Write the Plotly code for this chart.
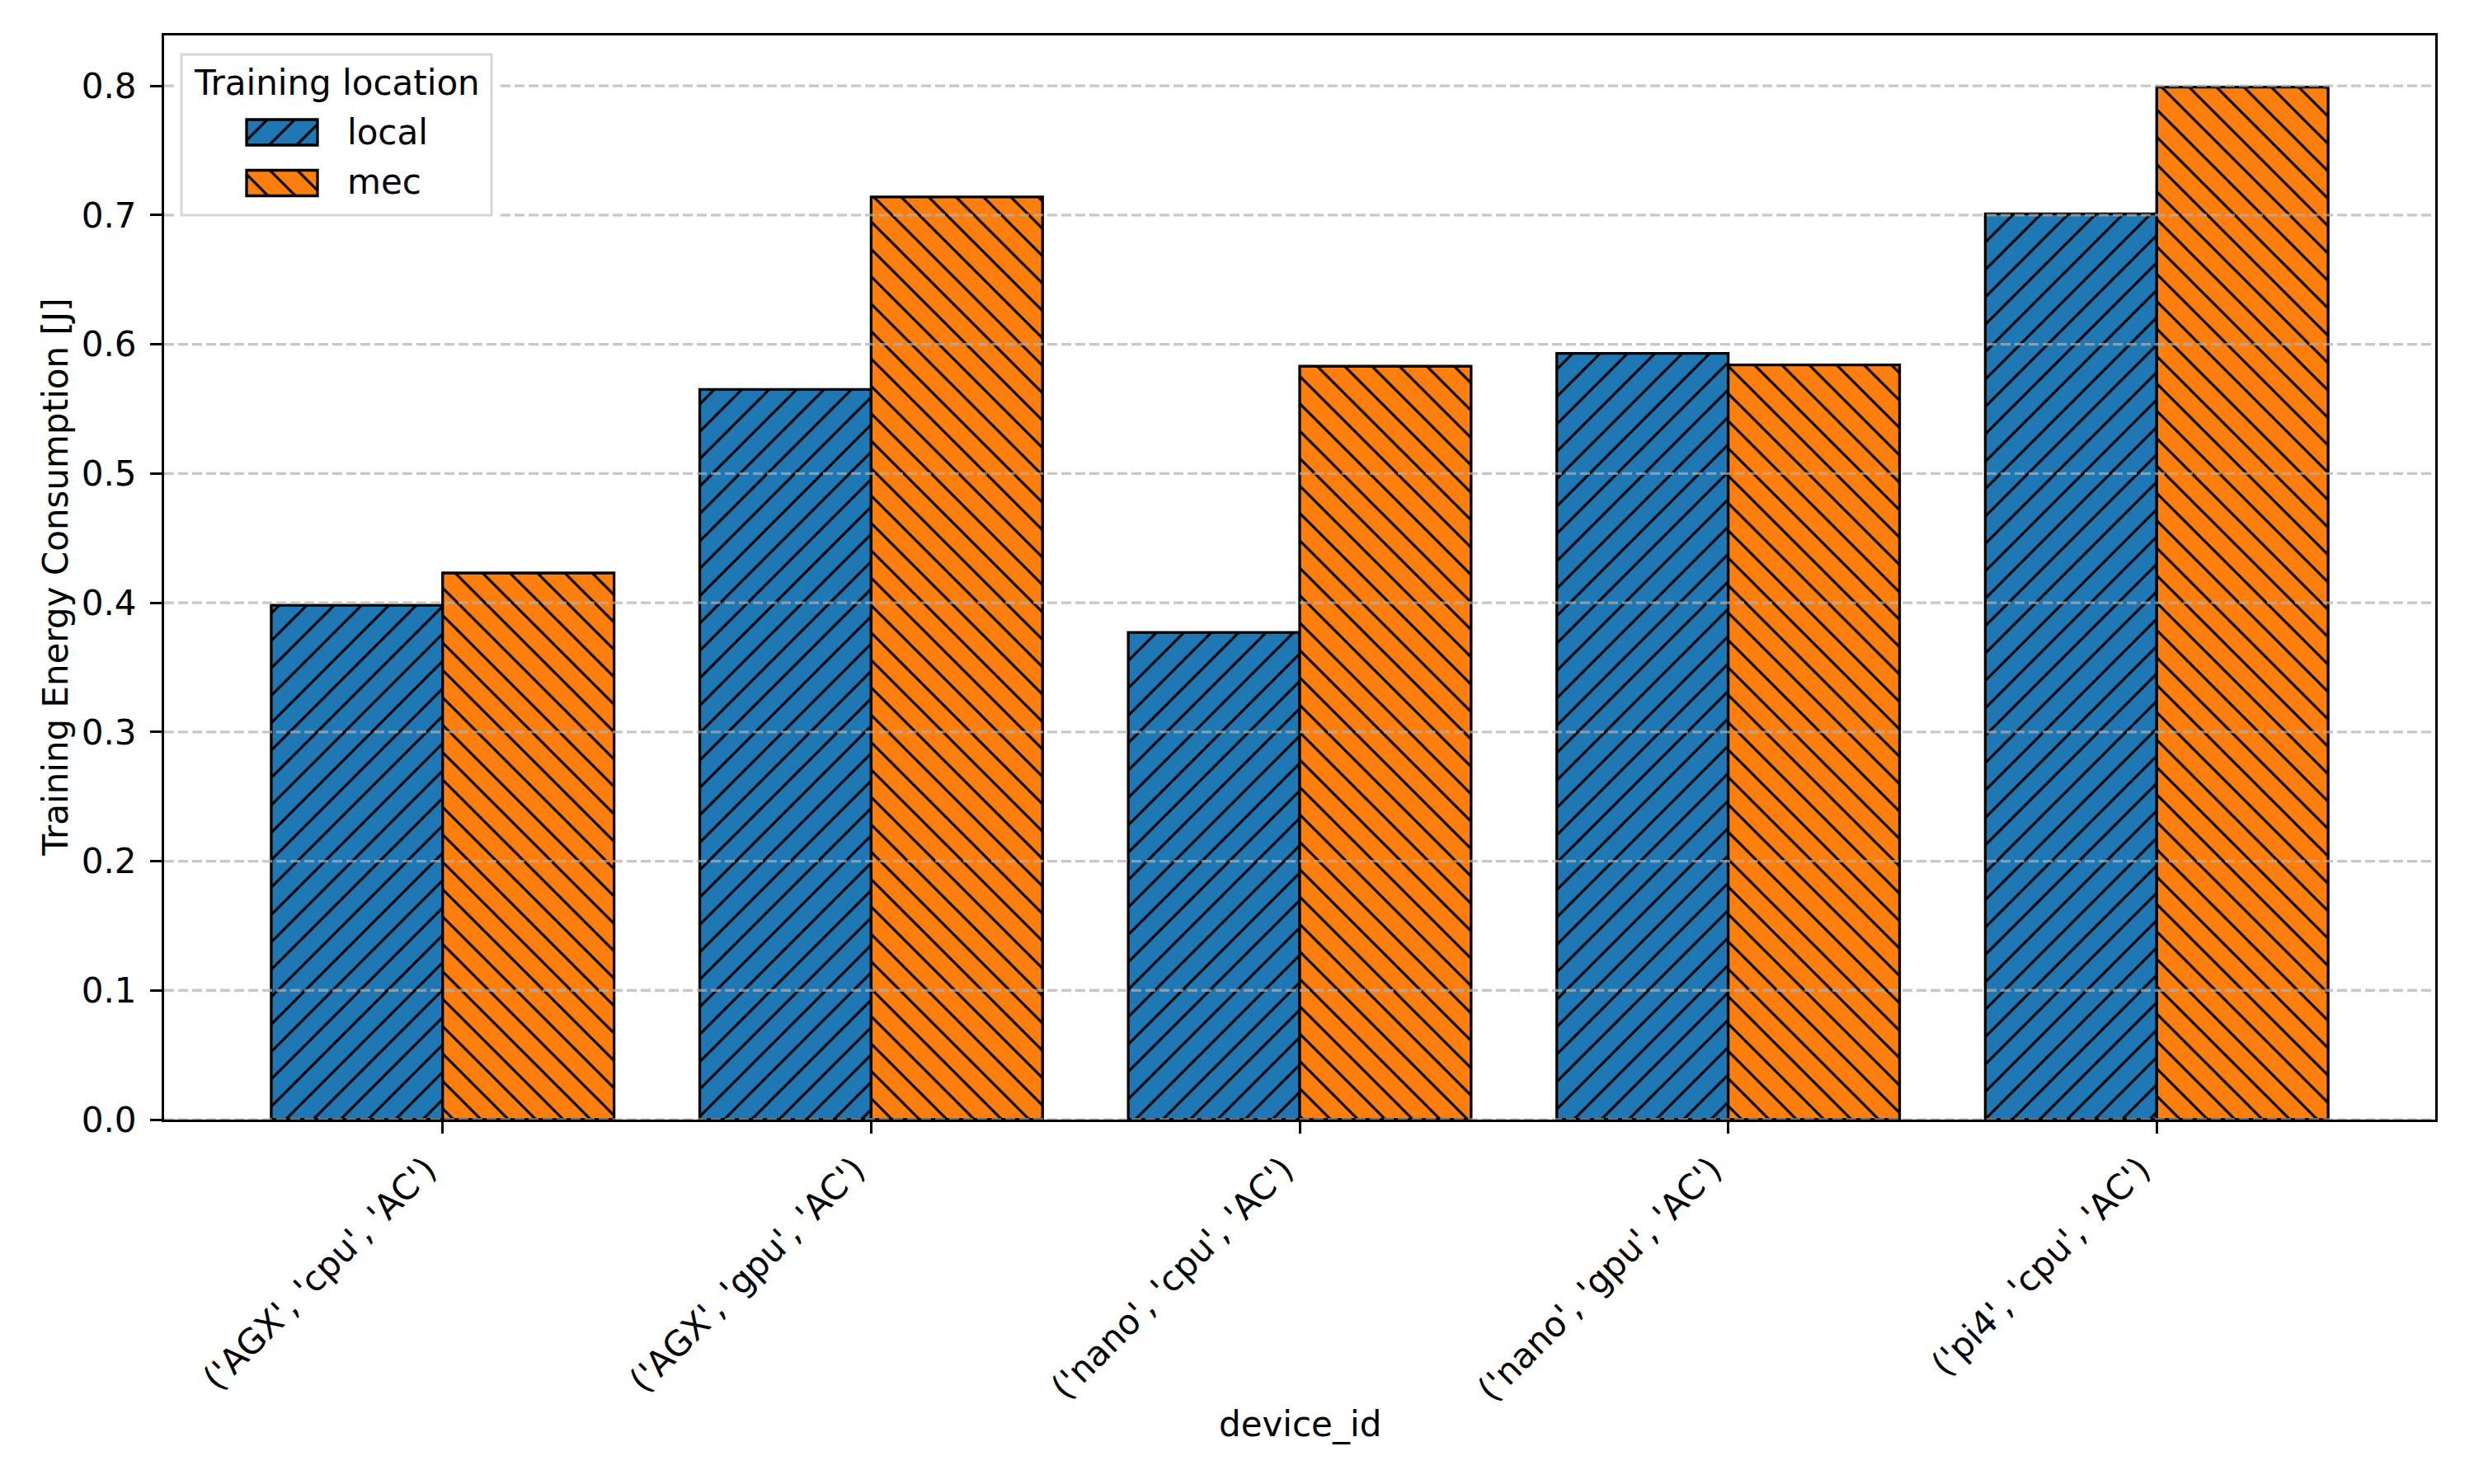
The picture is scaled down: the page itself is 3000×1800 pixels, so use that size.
import plotly.graph_objects as go

# ---------------- data ----------------
categories = ["('AGX', 'cpu', 'AC')", "('AGX', 'gpu', 'AC')", "('nano', 'cpu', 'AC')",
              "('nano', 'gpu', 'AC')", "('pi4', 'cpu', 'AC')"]
local_values = [0.398, 0.565, 0.377, 0.593, 0.701]
mec_values = [0.423, 0.714, 0.583, 0.584, 0.799]
series_names = ["local", "mec"]
legend_title = "Training location"
y_tick_values = [0.0, 0.1, 0.2, 0.3, 0.4, 0.5, 0.6, 0.7, 0.8]
y_tick_labels = ["0.0", "0.1", "0.2", "0.3", "0.4", "0.5", "0.6", "0.7", "0.8"]
x_title = "device_id"
y_title = "Training Energy Consumption [J]"

# ---------------- styling / layout constants ----------------
FIG_W, FIG_H = 3000, 1800
L, R, T, B = 199, 2953, 43, 1358          # plot area in pixels
PW, PH = R - L, B - T
FONT = "DejaVu Sans"
FS = 42
C_LOCAL, C_MEC = "#1f77b4", "#ff7f0e"
EDGE_W = 3.3
PAT_SIZE, PAT_SOLID = 23.5, 0.13


def px_x(x):
    return (x - L) / PW


def px_y(y):
    return (B - y) / PH


def pattern(shape):
    return dict(shape=shape, size=PAT_SIZE, solidity=PAT_SOLID, fgcolor="black",
                fgopacity=1, fillmode="overlay")


fig = go.Figure()

# main bars
fig.add_trace(go.Bar(x=categories, y=local_values, name=series_names[0],
                     marker=dict(color=C_LOCAL, line=dict(color="black", width=EDGE_W),
                                 pattern=pattern("/")),
                     xaxis="x", yaxis="y", showlegend=False))
fig.add_trace(go.Bar(x=categories, y=mec_values, name=series_names[1],
                     marker=dict(color=C_MEC, line=dict(color="black", width=EDGE_W),
                                 pattern=pattern("\\")),
                     xaxis="x", yaxis="y", showlegend=False))

# dashed grid drawn above the bars (overlay x-axis spanning full width)
gx, gy = [], []
for v in y_tick_values:
    gx += [0, 1, None]
    gy += [v, v, None]
fig.add_trace(go.Scatter(x=gx, y=gy, mode="lines", xaxis="x2", yaxis="y",
                         line=dict(color="rgba(176,176,176,0.7)", width=3.3, dash="12px,5px"),
                         hoverinfo="skip", showlegend=False, cliponaxis=False))

# legend box (inset axes x3/y3)
bx0, bx1, by0, by1 = 220, 596, 66, 261
pad = 6
fig.add_trace(go.Bar(x=[0], y=[1], base=[0], width=[1], offset=0,
                     marker=dict(color="rgba(255,255,255,0.8)",
                                 line=dict(color="rgba(204,204,204,0.8)", width=3)),
                     xaxis="x3", yaxis="y3", hoverinfo="skip", showlegend=False))

# legend swatches (inset axes x4/y4)
sx0, sx1 = 299, 385
sw_h = 31
c_local_y, c_mec_y = 160.5, 222
unit = c_mec_y - c_local_y
wfrac = sw_h / unit
fig.add_trace(go.Bar(x=[1], y=[1], base=[0], orientation="h", width=[wfrac], offset=-wfrac / 2,
                     marker=dict(color=C_LOCAL, line=dict(color="black", width=EDGE_W),
                                 pattern=pattern("/")),
                     xaxis="x4", yaxis="y4", hoverinfo="skip", showlegend=False))
fig.add_trace(go.Bar(x=[1], y=[0], base=[0], orientation="h", width=[wfrac], offset=-wfrac / 2,
                     marker=dict(color=C_MEC, line=dict(color="black", width=EDGE_W),
                                 pattern=pattern("\\")),
                     xaxis="x4", yaxis="y4", hoverinfo="skip", showlegend=False))

axis_common = dict(showline=True, linecolor="black", linewidth=3, mirror=True,
                   ticks="outside", ticklen=14, tickwidth=3, tickcolor="black",
                   showgrid=False, zeroline=False, tickfont=dict(family=FONT, size=FS, color="black"))

hidden = dict(visible=False, showgrid=False, zeroline=False, fixedrange=True)

sp = 4
fig.update_layout(
    width=FIG_W, height=FIG_H, autosize=False,
    margin=dict(l=L, r=FIG_W - R, t=T, b=FIG_H - B, pad=0),
    paper_bgcolor="white", plot_bgcolor="white",
    font=dict(family=FONT, size=FS, color="black"),
    barmode="group", bargap=0.2, bargroupgap=0,
    showlegend=False,
    xaxis=dict(type="category", categoryorder="array", categoryarray=categories,
               range=[-0.65, len(categories) - 0.35], tickangle=-45,
               ticklabelshift=-20, ticklabelstandoff=2,
               layer="above traces", **axis_common),
    yaxis=dict(range=[0, 0.839], tickvals=y_tick_values, ticktext=y_tick_labels,
               ticklabelstandoff=8,
               layer="above traces", **axis_common),
    xaxis2=dict(overlaying="x", anchor="y", range=[0, 1], **hidden),
    xaxis3=dict(domain=[px_x(bx0 - pad), px_x(bx1 + pad)], anchor="y3",
                range=[-pad / (bx1 - bx0), 1 + pad / (bx1 - bx0)], **hidden),
    yaxis3=dict(domain=[px_y(by1 + pad), px_y(by0 - pad)], anchor="x3",
                range=[-pad / (by1 - by0), 1 + pad / (by1 - by0)], **hidden),
    xaxis4=dict(domain=[px_x(sx0 - sp), px_x(sx1 + sp)], anchor="y4",
                range=[-sp / (sx1 - sx0), 1 + sp / (sx1 - sx0)], **hidden),
    yaxis4=dict(domain=[px_y(c_mec_y + sw_h / 2 + sp), px_y(c_local_y - sw_h / 2 - sp)], anchor="x4",
                range=[-(sw_h / 2 + sp) / unit, 1 + (sw_h / 2 + sp) / unit], **hidden),
)

ann_font = dict(family=FONT, size=FS, color="black")
fig.add_annotation(text=legend_title, xref="paper", yref="paper",
                   x=px_x((bx0 + bx1) / 2), y=px_y(100), xanchor="center", yanchor="middle",
                   showarrow=False, font=ann_font)
fig.add_annotation(text=series_names[0], xref="paper", yref="paper",
                   x=px_x(419), y=px_y(c_local_y), xanchor="left", yanchor="middle",
                   showarrow=False, font=ann_font)
fig.add_annotation(text=series_names[1], xref="paper", yref="paper",
                   x=px_x(419), y=px_y(c_mec_y - 1.5), xanchor="left", yanchor="middle",
                   showarrow=False, font=ann_font)
fig.add_annotation(text=x_title, xref="paper", yref="paper",
                   x=0.5, y=px_y(1727), xanchor="center", yanchor="middle",
                   showarrow=False, font=ann_font)
fig.add_annotation(text=y_title, xref="paper", yref="paper", textangle=-90,
                   x=px_x(67), y=0.5, xanchor="center", yanchor="middle",
                   showarrow=False, font=ann_font)

fig.write_html("out.html",
               config={"displayModeBar": False, "staticPlot": True},
               post_script="document.body.style.margin='0px';document.body.style.padding='0px';")
